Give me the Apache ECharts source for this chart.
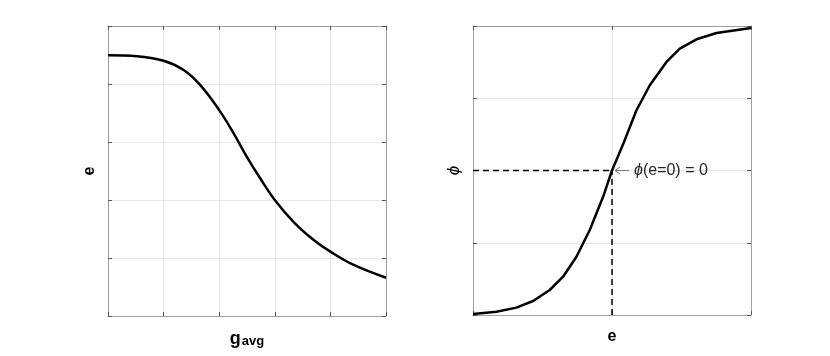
<!DOCTYPE html>
<html>
<head>
<meta charset="utf-8">
<script src="https://cdn.jsdelivr.net/npm/echarts@6/dist/echarts.min.js"></script>
<style>html,body{margin:0;padding:0;background:#fff}#c{width:830px;height:356px}</style>
</head>
<body>
<div id="c"></div>
<script>
// Left panel: e vs g_avg
var leftX = [0, 0.52, 1.0, 1.36, 1.66, 2.0, 2.26, 2.5, 2.74, 3.0, 3.34, 3.7, 4.0, 4.42, 5.0];
var leftY = [4.495, 4.48, 4.40, 4.24, 3.98, 3.55, 3.15, 2.74, 2.37, 2.0, 1.62, 1.31, 1.11, 0.88, 0.66];
// Right panel: phi vs e
var rightX = [-1, -0.832, -0.688, -0.568, -0.448, -0.352, -0.256, -0.16, -0.064, 0, 0.082, 0.176, 0.272, 0.392, 0.488, 0.608, 0.752, 1];
var rightY = [-0.993, -0.977, -0.949, -0.903, -0.827, -0.735, -0.597, -0.412, -0.182, 0, 0.187, 0.417, 0.59, 0.751, 0.843, 0.908, 0.952, 0.986];
// Reference dashed guides
var guideHX = [-1, 0], guideHY = [0, 0];
var guideVX = [0, 0], guideVY = [-1, 0];
var annotText = '(e=0) = 0';

function zip(a, b) { return a.map(function (v, i) { return [v, b[i]]; }); }

var lineCol = '#a0a0a0', tickCol = '#555', gridCol = '#e6e6e6';
function ax(extra) {
  var o = {
    type: 'value', axisLabel: { show: false },
    axisLine: { show: true, onZero: false, lineStyle: { color: lineCol, width: 1 } },
    axisTick: { show: true, inside: true, length: 4, lineStyle: { color: tickCol } },
    splitLine: { show: false }
  };
  for (var k in extra) o[k] = extra[k];
  return o;
}
var nameFont = { fontFamily: 'Liberation Sans', fontWeight: 'bold', fontSize: 16, color: '#000' };

var chart = echarts.init(document.getElementById('c'), null, { renderer: 'canvas' });
chart.setOption({
  animation: false,
  backgroundColor: '#fff',
  grid: [
    { left: 108, top: 26, width: 278, height: 290 },
    { left: 473, top: 26, width: 278, height: 289 }
  ],
  xAxis: [
    ax({ gridIndex: 0, min: 0, max: 5, interval: 1, position: 'bottom',
      splitLine: { show: true, lineStyle: { color: gridCol } },
      name: '{g|g}{s|avg}', nameLocation: 'middle', nameGap: 12,
      nameTextStyle: { rich: { g: { fontFamily: 'Liberation Sans', fontWeight: 'bold', fontSize: 18, color: '#000', verticalAlign: 'bottom' },
                               s: { fontFamily: 'Liberation Sans', fontWeight: 'bold', fontSize: 13, color: '#000', padding: [7, 0, 0, 1] } } } }),
    ax({ gridIndex: 0, min: 0, max: 5, interval: 1, position: 'top' }),
    ax({ gridIndex: 1, min: -1, max: 1, interval: 1, position: 'bottom',
      splitLine: { show: true, lineStyle: { color: gridCol } },
      name: 'e', nameLocation: 'middle', nameGap: 14, nameTextStyle: nameFont }),
    ax({ gridIndex: 1, min: -1, max: 1, interval: 1, position: 'top' })
  ],
  yAxis: [
    ax({ gridIndex: 0, min: 0, max: 5, interval: 1, position: 'left',
      splitLine: { show: true, lineStyle: { color: gridCol } },
      name: 'e', nameLocation: 'middle', nameGap: 10, nameRotate: 90, nameTextStyle: nameFont }),
    ax({ gridIndex: 0, min: 0, max: 5, interval: 1, position: 'right' }),
    ax({ gridIndex: 1, min: -1, max: 1, interval: 0.5, position: 'left',
      splitLine: { show: true, lineStyle: { color: gridCol } },
      name: 'ϕ', nameLocation: 'middle', nameGap: 10, nameRotate: 90,
      nameTextStyle: { fontFamily: 'Liberation Sans', fontStyle: 'italic', fontSize: 17, color: '#000' } }),
    ax({ gridIndex: 1, min: -1, max: 1, interval: 0.5, position: 'right' })
  ],
  series: [
    { type: 'line', xAxisIndex: 0, yAxisIndex: 0, data: zip(leftX, leftY), smooth: 0.4,
      showSymbol: false, lineStyle: { color: '#000', width: 2.5 }, z: 5 },
    { type: 'line', xAxisIndex: 2, yAxisIndex: 2, data: zip(guideHX, guideHY),
      showSymbol: false, lineStyle: { color: '#000', width: 1.5, type: [6, 4] }, z: 4 },
    { type: 'line', xAxisIndex: 2, yAxisIndex: 2, data: zip(guideVX, guideVY),
      showSymbol: false, lineStyle: { color: '#000', width: 1.5, type: [6, 4] }, z: 4 },
    { type: 'line', xAxisIndex: 2, yAxisIndex: 2, data: zip(rightX, rightY), smooth: false,
      showSymbol: false, lineStyle: { color: '#000', width: 2.5, join: 'round' }, z: 5 }
  ]
});

var p = chart.convertToPixel({ xAxisIndex: 2, yAxisIndex: 2 }, [0, 0]);
var ax0 = p[0] + 3, ax1 = p[0] + 17;
chart.setOption({
  graphic: [
    { type: 'line', shape: { x1: ax0, y1: p[1], x2: ax1, y2: p[1] }, style: { stroke: '#7a7a7a', lineWidth: 1 }, z: 10 },
    { type: 'polyline', shape: { points: [[ax0 + 5, p[1] - 3.5], [ax0, p[1]], [ax0 + 5, p[1] + 3.5]] }, style: { stroke: '#7a7a7a', fill: null, lineWidth: 1 }, z: 10 },
    { type: 'text', x: ax1 + 5, y: p[1], z: 10,
      style: { text: '{i|ϕ}' + annotText, verticalAlign: 'middle', fill: '#262626',
        font: '16px "Liberation Sans"',
        rich: { i: { fontFamily: 'Liberation Sans', fontStyle: 'italic', fontSize: 16, fill: '#262626' } } } }
  ]
});
</script>
</body>
</html>
